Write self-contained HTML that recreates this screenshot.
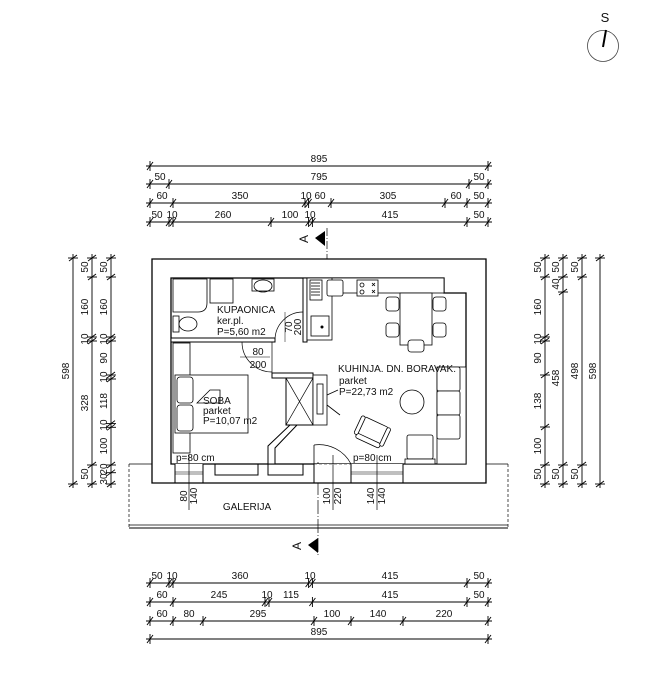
<!DOCTYPE html>
<html><head><meta charset="utf-8"><style>
html,body{margin:0;padding:0;background:#fff;}
svg{display:block;}
text{font-family:"Liberation Sans",sans-serif;font-size:10px;fill:#111;}
</style></head><body>
<svg width="662" height="690" viewBox="0 0 662 690" xmlns="http://www.w3.org/2000/svg">
<defs>
<g id="t" stroke="#000" stroke-width="0.9"><line x1="-3" y1="4" x2="3" y2="-4"/><line x1="0" y1="-5" x2="0" y2="5"/></g>
<g id="v" stroke="#000" stroke-width="0.9"><line x1="-4" y1="3" x2="4" y2="-3"/><line x1="-5" y1="0" x2="5" y2="0"/></g>
</defs>

<circle cx="603" cy="46" r="15.5" fill="none" stroke="#444" stroke-width="0.8"/>
<line x1="603" y1="47" x2="606" y2="30" stroke="#000" stroke-width="2"/>
<text x="605" y="22" text-anchor="middle" style="font-size:13px">S</text>

<g stroke="#000" stroke-width="0.9">
<line x1="146" y1="166" x2="492" y2="166"/>
<line x1="146" y1="184" x2="492" y2="184"/>
<line x1="146" y1="203" x2="492" y2="203"/>
<line x1="146" y1="222" x2="492" y2="222"/>
<line x1="146" y1="583" x2="492" y2="583"/>
<line x1="146" y1="602" x2="492" y2="602"/>
<line x1="146" y1="621" x2="492" y2="621"/>
<line x1="146" y1="639" x2="492" y2="639"/>
<line x1="73" y1="254" x2="73" y2="488"/>
<line x1="92" y1="254" x2="92" y2="488"/>
<line x1="111" y1="254" x2="111" y2="488"/>
<line x1="545" y1="254" x2="545" y2="488"/>
<line x1="563" y1="254" x2="563" y2="488"/>
<line x1="582" y1="254" x2="582" y2="488"/>
<line x1="600" y1="254" x2="600" y2="488"/>
</g>

<use href="#t" x="150" y="166"/><use href="#t" x="488" y="166"/>
<use href="#t" x="150" y="184"/><use href="#t" x="169" y="184"/><use href="#t" x="469" y="184"/><use href="#t" x="488" y="184"/>
<use href="#t" x="150" y="203"/><use href="#t" x="173" y="203"/><use href="#t" x="305" y="203"/><use href="#t" x="308.6" y="203"/><use href="#t" x="331" y="203"/><use href="#t" x="445" y="203"/><use href="#t" x="467" y="203"/><use href="#t" x="488" y="203"/>
<use href="#t" x="150" y="222"/><use href="#t" x="169" y="222"/><use href="#t" x="173" y="222"/><use href="#t" x="271" y="222"/><use href="#t" x="308.6" y="222"/><use href="#t" x="312.4" y="222"/><use href="#t" x="467" y="222"/><use href="#t" x="488" y="222"/>
<text x="319" y="162" text-anchor="middle">895</text>
<text x="160" y="180" text-anchor="middle">50</text><text x="319" y="180" text-anchor="middle">795</text><text x="479" y="180" text-anchor="middle">50</text>
<text x="162" y="199" text-anchor="middle">60</text><text x="240" y="199" text-anchor="middle">350</text><text x="306" y="199" text-anchor="middle">10</text><text x="320" y="199" text-anchor="middle">60</text><text x="388" y="199" text-anchor="middle">305</text><text x="456" y="199" text-anchor="middle">60</text><text x="479" y="199" text-anchor="middle">50</text>
<text x="157" y="218" text-anchor="middle">50</text><text x="172" y="218" text-anchor="middle">10</text><text x="223" y="218" text-anchor="middle">260</text><text x="290" y="218" text-anchor="middle">100</text><text x="310" y="218" text-anchor="middle">10</text><text x="390" y="218" text-anchor="middle">415</text><text x="479" y="218" text-anchor="middle">50</text>

<use href="#t" x="150" y="583"/><use href="#t" x="169" y="583"/><use href="#t" x="173" y="583"/><use href="#t" x="308.6" y="583"/><use href="#t" x="312.4" y="583"/><use href="#t" x="467" y="583"/><use href="#t" x="488" y="583"/>
<use href="#t" x="150" y="602"/><use href="#t" x="173" y="602"/><use href="#t" x="265" y="602"/><use href="#t" x="269" y="602"/><use href="#t" x="312.4" y="602"/><use href="#t" x="467" y="602"/><use href="#t" x="488" y="602"/>
<use href="#t" x="150" y="621"/><use href="#t" x="173" y="621"/><use href="#t" x="203" y="621"/><use href="#t" x="314" y="621"/><use href="#t" x="351" y="621"/><use href="#t" x="403" y="621"/><use href="#t" x="488" y="621"/>
<use href="#t" x="150" y="639"/><use href="#t" x="488" y="639"/>
<text x="157" y="579" text-anchor="middle">50</text><text x="172" y="579" text-anchor="middle">10</text><text x="240" y="579" text-anchor="middle">360</text><text x="310" y="579" text-anchor="middle">10</text><text x="390" y="579" text-anchor="middle">415</text><text x="479" y="579" text-anchor="middle">50</text>
<text x="162" y="598" text-anchor="middle">60</text><text x="219" y="598" text-anchor="middle">245</text><text x="267" y="598" text-anchor="middle">10</text><text x="291" y="598" text-anchor="middle">115</text><text x="390" y="598" text-anchor="middle">415</text><text x="479" y="598" text-anchor="middle">50</text>
<text x="162" y="617" text-anchor="middle">60</text><text x="189" y="617" text-anchor="middle">80</text><text x="258" y="617" text-anchor="middle">295</text><text x="332" y="617" text-anchor="middle">100</text><text x="378" y="617" text-anchor="middle">140</text><text x="444" y="617" text-anchor="middle">220</text>
<text x="319" y="635" text-anchor="middle">895</text>

<use href="#v" x="73" y="258"/><use href="#v" x="73" y="484"/>
<use href="#v" x="92" y="258"/><use href="#v" x="92" y="277"/><use href="#v" x="92" y="337"/><use href="#v" x="92" y="341"/><use href="#v" x="92" y="465"/><use href="#v" x="92" y="484"/>
<use href="#v" x="111" y="258"/><use href="#v" x="111" y="277"/><use href="#v" x="111" y="337"/><use href="#v" x="111" y="341"/><use href="#v" x="111" y="375"/><use href="#v" x="111" y="379"/><use href="#v" x="111" y="423.6"/><use href="#v" x="111" y="427.3"/><use href="#v" x="111" y="465"/><use href="#v" x="111" y="472.7"/><use href="#v" x="111" y="484"/>
<g text-anchor="middle">
<text transform="translate(69,371) rotate(-90)">598</text>
<text transform="translate(88,267) rotate(-90)">50</text><text transform="translate(88,307) rotate(-90)">160</text><text transform="translate(88,339) rotate(-90)">10</text><text transform="translate(88,403) rotate(-90)">328</text><text transform="translate(88,474) rotate(-90)">50</text>
<text transform="translate(107,267) rotate(-90)">50</text><text transform="translate(107,307) rotate(-90)">160</text><text transform="translate(107,339) rotate(-90)">10</text><text transform="translate(107,358) rotate(-90)">90</text><text transform="translate(107,377) rotate(-90)">10</text><text transform="translate(107,401) rotate(-90)">118</text><text transform="translate(107,425) rotate(-90)">10</text><text transform="translate(107,446) rotate(-90)">100</text><text transform="translate(107,469) rotate(-90)">20</text><text transform="translate(107,479) rotate(-90)">30</text>
</g>

<use href="#v" x="545" y="258"/><use href="#v" x="545" y="277"/><use href="#v" x="545" y="337"/><use href="#v" x="545" y="341"/><use href="#v" x="545" y="375"/><use href="#v" x="545" y="427"/><use href="#v" x="545" y="465"/><use href="#v" x="545" y="484"/>
<use href="#v" x="563" y="258"/><use href="#v" x="563" y="277"/><use href="#v" x="563" y="292"/><use href="#v" x="563" y="465"/><use href="#v" x="563" y="484"/>
<use href="#v" x="582" y="258"/><use href="#v" x="582" y="277"/><use href="#v" x="582" y="465"/><use href="#v" x="582" y="484"/>
<use href="#v" x="600" y="258"/><use href="#v" x="600" y="484"/>
<g text-anchor="middle">
<text transform="translate(541,267) rotate(-90)">50</text><text transform="translate(541,307) rotate(-90)">160</text><text transform="translate(541,339) rotate(-90)">10</text><text transform="translate(541,358) rotate(-90)">90</text><text transform="translate(541,401) rotate(-90)">138</text><text transform="translate(541,446) rotate(-90)">100</text><text transform="translate(541,474) rotate(-90)">50</text>
<text transform="translate(559,267) rotate(-90)">50</text><text transform="translate(559,284) rotate(-90)">40</text><text transform="translate(559,378) rotate(-90)">458</text><text transform="translate(559,474) rotate(-90)">50</text>
<text transform="translate(578,267) rotate(-90)">50</text><text transform="translate(578,371) rotate(-90)">498</text><text transform="translate(578,474) rotate(-90)">50</text>
<text transform="translate(596,371) rotate(-90)">598</text>
</g>

<g stroke="#000" stroke-width="0.7">
<line x1="327" y1="228" x2="327" y2="262" stroke-dasharray="8,2,1,2"/>
<line x1="318" y1="462" x2="318" y2="555" stroke-dasharray="14,2,1,2"/>
</g>
<path d="M315,238 L325,231 L325,246 Z" fill="#000"/>
<text transform="translate(308,239) rotate(-90)" text-anchor="middle" style="font-size:12px">A</text>
<path d="M308,545 L318,538 L318,553 Z" fill="#000"/>
<text transform="translate(301,546) rotate(-90)" text-anchor="middle" style="font-size:12px">A</text>

<g stroke="#000" fill="none">
<line x1="129" y1="464" x2="508" y2="464" stroke-width="0.8"/>
<line x1="129" y1="525" x2="508" y2="525" stroke-width="0.8"/>
<line x1="129" y1="528" x2="508" y2="528" stroke-width="1"/>
<line x1="129" y1="464" x2="129" y2="528" stroke-width="0.7" stroke-dasharray="3,2"/>
<line x1="508" y1="464" x2="508" y2="528" stroke-width="0.7" stroke-dasharray="3,2"/>
</g>

<g stroke="#000" stroke-width="1.3" fill="#fff">
<path d="M152,259 H486 V483 H152 Z M171,278 V464 H466 V293 H444 V278 Z" fill-rule="evenodd"/>
</g>
<g stroke="#000" stroke-width="1">
<rect x="175" y="464" width="28" height="18" fill="#fff" stroke="none"/>
<rect x="314" y="464" width="37" height="18" fill="#fff" stroke="none"/>
<rect x="351" y="464" width="52" height="18" fill="#fff" stroke="none"/>
<line x1="175" y1="464" x2="175" y2="483"/><line x1="203" y1="464" x2="203" y2="483"/>
<line x1="175" y1="472" x2="203" y2="472" stroke-width="0.6"/><line x1="175" y1="474" x2="203" y2="474" stroke-width="0.6"/>
<line x1="351" y1="464" x2="351" y2="483"/><line x1="403" y1="464" x2="403" y2="483"/>
<line x1="351" y1="472" x2="403" y2="472" stroke-width="0.6"/><line x1="351" y1="474" x2="403" y2="474" stroke-width="0.6"/>
<line x1="314" y1="464" x2="314" y2="483"/><line x1="351" y1="464" x2="351" y2="483"/>
<line x1="314" y1="464" x2="351" y2="464" stroke-width="0.6" stroke-dasharray="3,2"/>
<path d="M203,464 H215 V475 H258 V464 H268 V475 H303 V464 H314" fill="none"/>
</g>
<path d="M314,445 A36,36 0 0 1 351,464" fill="none" stroke="#000" stroke-width="0.7"/>
<line x1="314" y1="445" x2="314" y2="464" stroke="#000" stroke-width="0.8"/>

<g stroke="#000" stroke-width="0.7">
<line x1="189" y1="455" x2="189" y2="510"/>
<line x1="333" y1="455" x2="333" y2="510"/>
<line x1="377" y1="455" x2="377" y2="510"/>
</g>
<g text-anchor="middle">
<text transform="translate(187,496) rotate(-90)">80</text><text transform="translate(197,496) rotate(-90)">140</text>
<text transform="translate(330,496) rotate(-90)">100</text><text transform="translate(341,496) rotate(-90)">220</text>
<text transform="translate(374,496) rotate(-90)">140</text><text transform="translate(385,496) rotate(-90)">140</text>
</g>
<text x="247" y="510" text-anchor="middle">GALERIJA</text>

<g stroke="#000" stroke-width="1" fill="#fff">
<rect x="171" y="338" width="104" height="4"/>
<rect x="303" y="278" width="4" height="64"/>
<path d="M272,373 H313 V425 H297 L275,448 V464 H268 V446 L290,425 H286 V378 H272 Z"/>
<rect x="286" y="378" width="27" height="47"/>
</g>
<g stroke="#000" stroke-width="0.7" fill="none">
<line x1="286" y1="378" x2="313" y2="425"/><line x1="313" y1="378" x2="286" y2="425"/>
<path d="M275,340 A28,28 0 0 1 303,312"/>
<path d="M242,342 A30,30 0 0 0 272,372"/>
<line x1="272" y1="342" x2="272" y2="373"/>
<line x1="240" y1="357" x2="270" y2="357" stroke-width="0.5"/>
<line x1="285" y1="312" x2="285" y2="342" stroke-width="0.5"/>
</g>
<text x="258" y="355" text-anchor="middle">80</text>
<text x="258" y="368" text-anchor="middle">200</text>
<text transform="translate(292,327) rotate(-90)" text-anchor="middle">70</text>
<text transform="translate(301,327) rotate(-90)" text-anchor="middle">200</text>

<g stroke="#000" stroke-width="0.8" fill="#fff">
<rect x="307" y="278" width="137" height="15"/>
<rect x="307" y="278" width="25" height="62"/>
<rect x="310" y="280" width="12" height="20"/>
<rect x="327" y="280" width="16" height="16" rx="2"/>
<rect x="357" y="280" width="21" height="16"/>
<circle cx="362" cy="285" r="2"/><circle cx="362" cy="292" r="2"/>
<rect x="311" y="316" width="18" height="20"/>
<rect x="313" y="375" width="14" height="50"/>
<rect x="317" y="384" width="6" height="30"/>
</g>
<g stroke="#000" stroke-width="0.8">
<line x1="311" y1="283" x2="320" y2="283"/><line x1="311" y1="286" x2="320" y2="286"/><line x1="311" y1="289" x2="320" y2="289"/><line x1="311" y1="292" x2="320" y2="292"/><line x1="311" y1="295" x2="320" y2="295"/>
<line x1="372" y1="283" x2="375" y2="286"/><line x1="375" y1="283" x2="372" y2="286"/>
<line x1="372" y1="290" x2="375" y2="293"/><line x1="375" y1="290" x2="372" y2="293"/>
<line x1="327" y1="395" x2="338" y2="390"/><line x1="327" y1="405" x2="340" y2="415"/>
</g>
<circle cx="322" cy="327" r="1.5" fill="#000"/>

<g stroke="#000" stroke-width="0.8" fill="#fff">
<rect x="400" y="293" width="32" height="52"/>
<rect x="386" y="297" width="13" height="14" rx="3"/><rect x="386" y="323" width="13" height="14" rx="3"/>
<rect x="433" y="297" width="13" height="14" rx="3"/><rect x="433" y="323" width="13" height="14" rx="3"/>
<rect x="408" y="340" width="16" height="12" rx="3"/>
<rect x="437" y="367" width="29" height="97"/>
<rect x="437" y="367" width="23" height="24" rx="2"/><rect x="437" y="391" width="23" height="24" rx="2"/><rect x="437" y="415" width="23" height="24" rx="2"/>
<rect x="407" y="435" width="26" height="24" rx="2"/>
<rect x="405" y="459" width="30" height="5"/>
<circle cx="412" cy="402" r="12"/>
<g transform="translate(372,432) rotate(25)">
<rect x="-13" y="-11" width="26" height="22" rx="2"/>
<rect x="-13" y="7" width="26" height="5" rx="2"/>
<rect x="-16" y="-11" width="4" height="20" rx="2"/>
<rect x="12" y="-11" width="4" height="20" rx="2"/>
</g>
</g>

<g stroke="#000" stroke-width="0.8" fill="#fff">
<path d="M173,279 H207 V303 Q207,312 198,312 H173 Z"/>
<rect x="210" y="279" width="23" height="24"/>
<ellipse cx="263" cy="286" rx="9" ry="6"/>
<rect x="252" y="279" width="22" height="12" fill="none"/>
<rect x="173" y="316" width="6" height="16"/>
<ellipse cx="188" cy="324" rx="9" ry="7"/>
</g>
<text x="217" y="313">KUPAONICA</text>
<text x="217" y="324">ker.pl.</text>
<text x="217" y="335">P=5,60 m2</text>

<g stroke="#000" stroke-width="0.8" fill="#fff">
<rect x="173" y="343" width="17" height="110"/>
<rect x="175" y="375" width="73" height="58"/>
<rect x="177" y="377" width="16" height="26" rx="3"/><rect x="177" y="405" width="16" height="26" rx="3"/>
<path d="M197,403 L210,390 H220 V403 Z" fill="none"/>
</g>
<text x="203" y="404">SOBA</text>
<text x="203" y="414">parket</text>
<text x="203" y="424">P=10,07 m2</text>

<text x="338" y="372">KUHINJA. DN. BORAVAK.</text>
<text x="339" y="384">parket</text>
<text x="339" y="395">P=22,73 m2</text>

<text x="176" y="461">p=80 cm</text>
<text x="353" y="461">p=80 cm</text>
</svg>
</body></html>
